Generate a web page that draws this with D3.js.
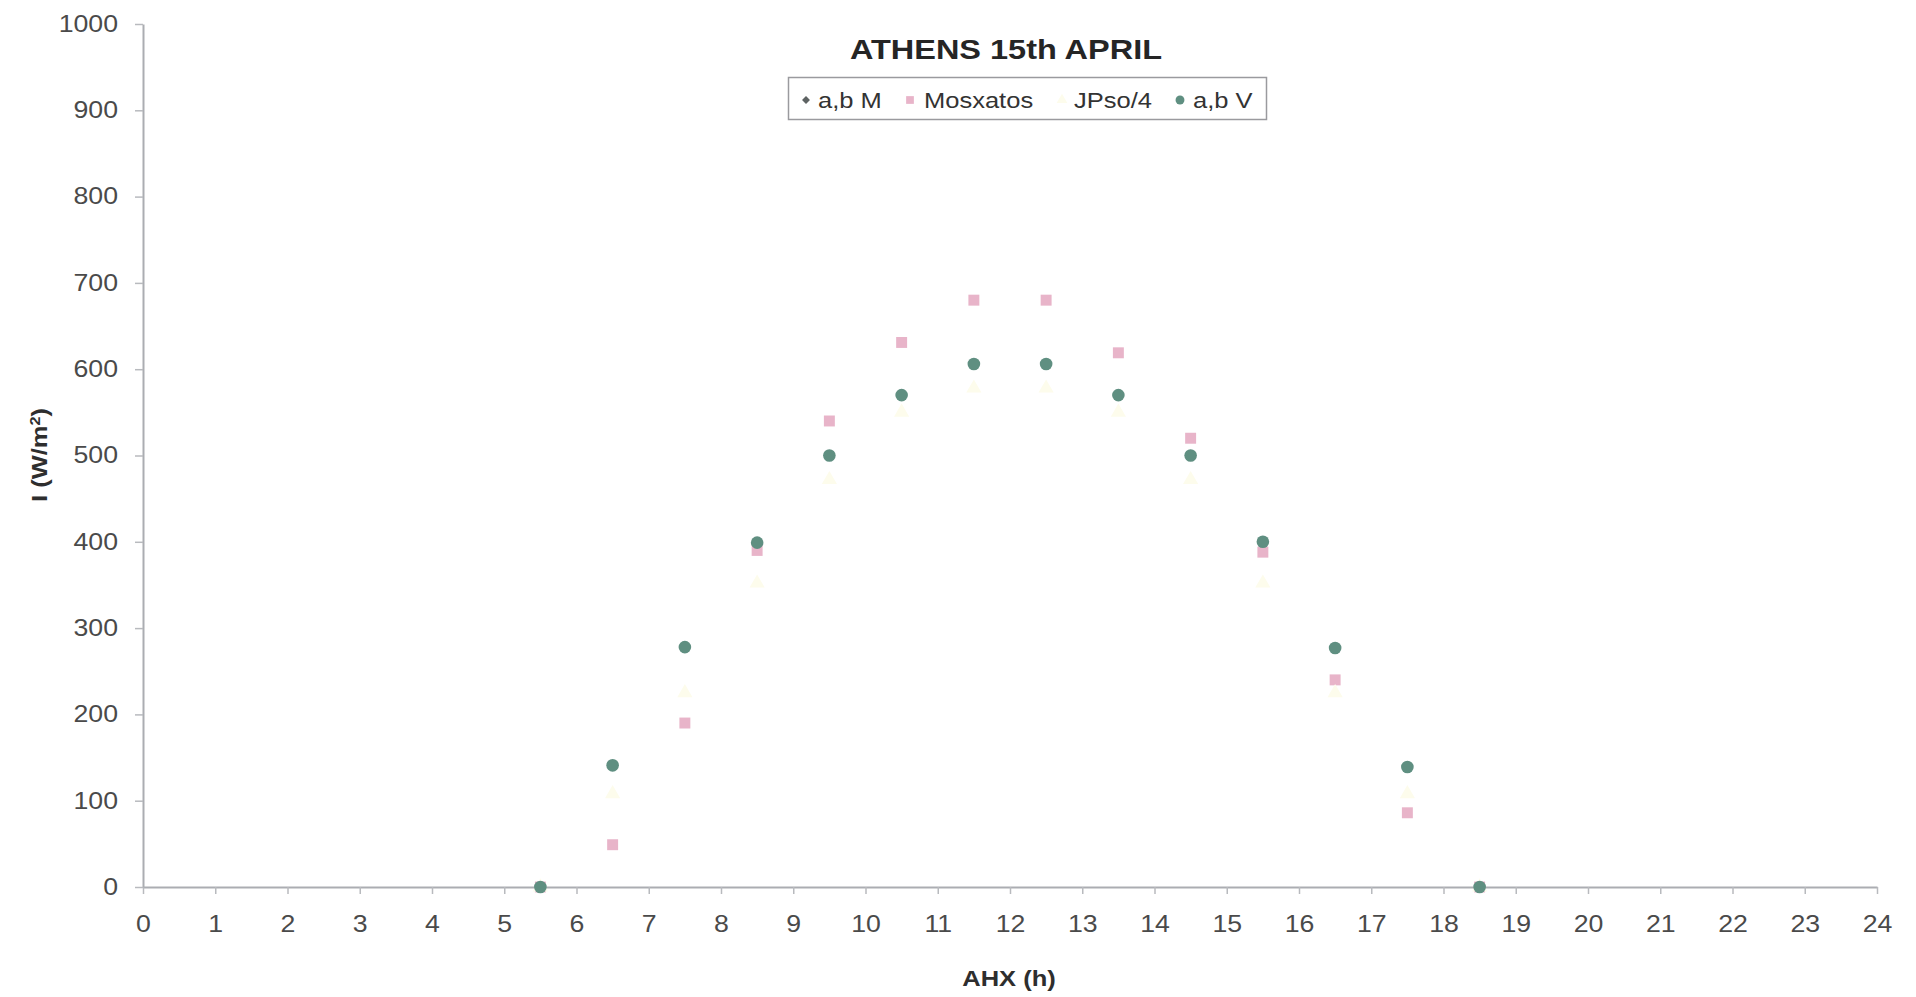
<!DOCTYPE html>
<html>
<head>
<meta charset="utf-8">
<script src="https://cdn.jsdelivr.net/npm/d3@7/dist/d3.min.js"></script>
<style>
  html, body { margin: 0; padding: 0; background: #fff; }
  svg { display: block; font-family: "Liberation Sans", Arial, sans-serif; }
</style>
</head>
<body>
<svg id="chart" width="1916" height="997"></svg>
<script>
// Solar irradiance, Athens, 15th April — hourly values (W/m²) against solar time
const hours    = [5.5, 6.5, 7.5, 8.5, 9.5, 10.5, 11.5, 12.5, 13.5, 14.5, 15.5, 16.5, 17.5, 18.5];
const abM      = [0, 141, 278, 399, 500, 570, 606, 606, 570, 500, 400, 277, 139, 0];
const mosxatos = [0, 49, 190, 390, 540, 631, 680, 680, 619, 520, 388, 240, 86, 0];
const jpso4    = [0, 108, 225, 352, 472, 550, 578, 578, 550, 472, 352, 225, 108, 0];
const abV      = [0, 141, 278, 399, 500, 570, 606, 606, 570, 500, 400, 277, 139, 0];

const xTicks = d3.range(0, 25, 1);
const yTicks = d3.range(0, 1001, 100);

const seriesNames = ["a,b M", "Mosxatos", "JPso/4", "a,b V"];
const seriesValues = [abM, mosxatos, jpso4, abV];
const seriesColors = ["#5e6363", "#e8b4c9", "#fdfcec", "#5f8f81"];
const seriesShapes = [d3.symbolDiamond2, d3.symbolSquare, d3.symbolTriangle, d3.symbolCircle];
const seriesSizes = [80, 120, 100, 125];

const STRETCH = 1.16; // text is set slightly wide

const svg = d3.select("#chart");
const margin = { left: 143, right: 39, top: 24, bottom: 110 };
const W = 1916, H = 997;

const x = d3.scaleLinear().domain([0, 24]).range([margin.left, W - margin.right]);
const y = d3.scaleLinear().domain([0, 1000]).range([H - margin.bottom, margin.top]);

function widen(sel) {
  sel.each(function () {
    const t = d3.select(this);
    const tx = +t.attr("x") || 0, ty = +t.attr("y") || 0;
    t.attr("transform", `translate(${tx},${ty}) scale(${STRETCH},1) translate(${-tx},${-ty})`);
  });
}

// Axes
const xAxis = svg.append("g")
  .attr("transform", `translate(0,${y(0)})`)
  .call(d3.axisBottom(x).tickValues(xTicks).tickFormat(d3.format("d")).tickSize(7).tickPadding(22).tickSizeOuter(0));
const yAxis = svg.append("g")
  .attr("transform", `translate(${x(0)},0)`)
  .call(d3.axisLeft(y).tickValues(yTicks).tickFormat(d3.format("d")).tickSize(8).tickPadding(17).tickSizeOuter(0));

[xAxis, yAxis].forEach(g => {
  g.select(".domain").attr("stroke", "#abadb2").attr("stroke-width", 2);
  g.selectAll(".tick line").attr("stroke", "#b8babe").attr("stroke-width", 1.5);
  g.selectAll(".tick text").attr("fill", "#4a4a4a").style("font-size", "23px").call(widen);
});

// Title
svg.append("text")
  .attr("x", 1006).attr("y", 59)
  .attr("text-anchor", "middle")
  .style("font-size", "28px").style("font-weight", "bold")
  .attr("fill", "#252525")
  .text("ATHENS 15th APRIL")
  .call(widen);

// Axis titles
svg.append("text")
  .attr("x", 1009).attr("y", 986)
  .attr("text-anchor", "middle")
  .style("font-size", "22px").style("font-weight", "bold")
  .attr("fill", "#2e2e2e")
  .text("AHX (h)")
  .call(widen);

const yTitle = svg.append("text")
  .attr("transform", `translate(47,455) rotate(-90) scale(${STRETCH},1)`)
  .attr("text-anchor", "middle")
  .style("font-size", "22px").style("font-weight", "bold")
  .attr("fill", "#2e2e2e");
yTitle.append("tspan").text("I (W/m");
yTitle.append("tspan").attr("baseline-shift", "super").style("font-size", "14px").text("2");
yTitle.append("tspan").text(")");

// Markers, drawn series by series so later series sit on top
seriesValues.forEach((vals, si) => {
  const sym = d3.symbol().type(seriesShapes[si]).size(seriesSizes[si]);
  svg.append("g")
    .selectAll("path")
    .data(hours.map((h, i) => ({ h, v: vals[i] })))
    .join("path")
    .attr("d", sym)
    .attr("transform", d => `translate(${x(d.h)},${y(d.v)})`)
    .attr("fill", seriesColors[si]);
});

// Legend
const legend = svg.append("g");
legend.append("rect")
  .attr("x", 788.5).attr("y", 77.5)
  .attr("width", 478).attr("height", 42)
  .attr("fill", "#fff")
  .attr("stroke", "#9a9a9e").attr("stroke-width", 1.5);

const legendMarkX = [806, 910, 1062, 1180];
const legendTextX = [818, 924, 1074, 1193];
seriesNames.forEach((name, si) => {
  const sym = d3.symbol().type(seriesShapes[si]).size(seriesSizes[si] * 0.5);
  legend.append("path")
    .attr("d", sym)
    .attr("transform", `translate(${legendMarkX[si]},100)`)
    .attr("fill", seriesColors[si]);
  legend.append("text")
    .attr("x", legendTextX[si]).attr("y", 108)
    .style("font-size", "22px")
    .attr("fill", "#333")
    .text(name)
    .call(widen);
});
</script>
</body>
</html>
